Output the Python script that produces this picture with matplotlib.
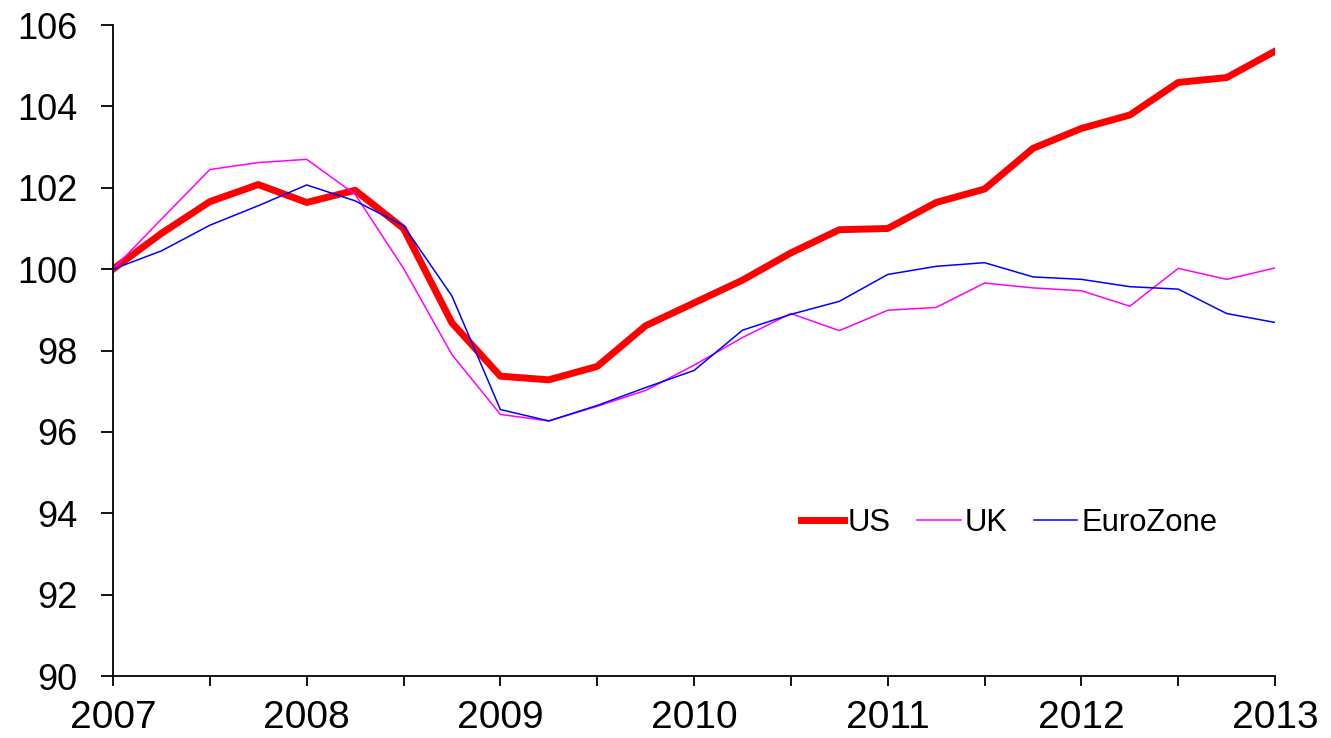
import matplotlib
matplotlib.use("Agg")
import matplotlib.pyplot as plt
import numpy as np

plt.rcParams['font.family'] = ['Liberation Sans', 'DejaVu Sans']

quarters = 2007 + np.arange(25) * 0.25

us = [100.0, 100.88, 101.66, 102.08, 101.64, 101.94, 101.0, 98.68, 97.37, 97.28,
      97.61, 98.61, 99.17, 99.73, 100.4, 100.97, 101.0, 101.64, 101.97, 102.97,
      103.46, 103.79, 104.59, 104.71, 105.36]
uk = [100.0, 101.23, 102.45, 102.62, 102.7, 101.84, 100.02, 97.9, 96.43, 96.27,
      96.63, 97.02, 97.64, 98.32, 98.91, 98.49, 98.99, 99.06, 99.66, 99.54,
      99.47, 99.09, 100.02, 99.75, 100.03]
eurozone = [100.0, 100.45, 101.08, 101.56, 102.07, 101.68, 101.07, 99.34, 96.55, 96.27,
            96.65, 97.09, 97.51, 98.5, 98.89, 99.21, 99.87, 100.07, 100.16, 99.81,
            99.75, 99.57, 99.51, 98.91, 98.69]

year_ticks = [2007, 2008, 2009, 2010, 2011, 2012, 2013]
y_ticks = [90, 92, 94, 96, 98, 100, 102, 104, 106]

fig = plt.figure(figsize=(13.31, 7.38), dpi=100)
ax = fig.add_axes([0.0849, 0.084, 0.958 - 0.0849, 0.966 - 0.084])

ax.plot(quarters, us, color='#FF0000', lw=5, label='US', solid_joinstyle='round')
ax.plot(quarters, uk, color='#FF00FF', lw=1.1, label='UK')
ax.plot(quarters, eurozone, color='#0000FF', lw=1.1, label='EuroZone')

ax.set_xlim(2007, 2013)
ax.set_ylim(90, 106)
ax.set_xticks(year_ticks)
ax.set_xticklabels([str(y) for y in year_ticks])
ax.set_xticks([y + 0.5 for y in year_ticks[:-1]], minor=True)
ax.set_yticks(y_ticks)

for s in ['top', 'right']:
    ax.spines[s].set_visible(False)
for s in ['left', 'bottom']:
    ax.spines[s].set_linewidth(1.3)

ax.tick_params(axis='x', which='both', direction='out', length=7.5, width=1.3,
               labelsize=28, pad=10, colors='black')
ax.tick_params(axis='y', which='both', direction='out', length=8.6, width=1.3,
               labelsize=26, pad=17, colors='black')

leg = ax.legend(loc='center', bbox_to_anchor=(0.771, 0.235), ncol=3, frameon=False,
                fontsize=22.3, handlelength=1.4, columnspacing=0.85, handletextpad=0.13)

fig.savefig('out.png', dpi=100)
